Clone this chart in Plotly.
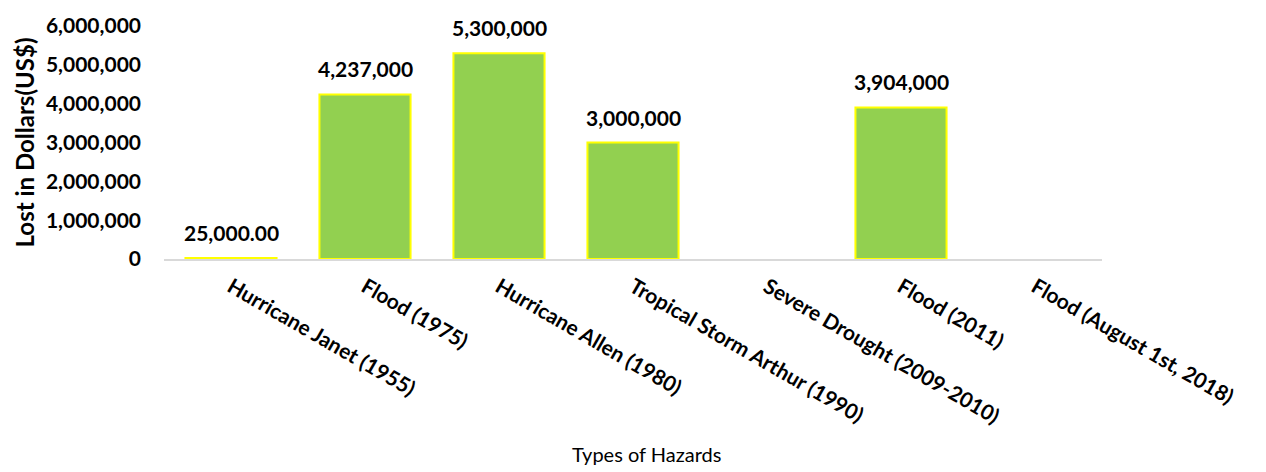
import plotly.graph_objects as go

categories = ["Hurricane Janet (1955)", "Flood (1975)", "Hurricane Allen (1980)",
              "Tropical Storm Arthur (1990)", "Severe Drought (2009-2010)",
              "Flood (2011)", "Flood (August 1st, 2018)"]
losses = [25000, 4237000, 5300000, 3000000, None, 3904000, None]
value_labels = ["25,000.00", "4,237,000", "5,300,000", "3,000,000", "", "3,904,000", ""]
y_ticks = [0, 1000000, 2000000, 3000000, 4000000, 5000000, 6000000]
y_tick_labels = ["0", "1,000,000", "2,000,000", "3,000,000", "4,000,000", "5,000,000", "6,000,000"]

FONT = "Lato"

fig = go.Figure()
fig.add_trace(go.Bar(
    x=categories, y=losses,
    marker=dict(color="#92D050", line=dict(color="#FFFF00", width=2)),
))

for c, v, t in zip(categories, losses, value_labels):
    if v is not None and t:
        fig.add_annotation(x=c, y=v, text="<b>%s</b>" % t, showarrow=False,
                           yanchor="bottom", yshift=11,
                           font=dict(family=FONT, size=21, color="black"))

fig.add_annotation(text="Types of Hazards", xref="paper", yref="paper",
                   x=0.514, y=-0.836, showarrow=False, xanchor="center", yanchor="middle",
                   font=dict(family=FONT, size=20, color="black"))

fig.update_layout(
    width=1266, height=472,
    margin=dict(l=164, r=164, t=21, b=213),
    plot_bgcolor="white", paper_bgcolor="white",
    bargap=0.32, showlegend=False,
    font=dict(family=FONT, color="black"),
    xaxis=dict(
        tickangle=30, tickfont=dict(family=FONT, size=21, weight="bold"),
        showline=True, linecolor="#d9d9d9", linewidth=1.5, ticks="",
        ticklabelstandoff=6,
    ),
    yaxis=dict(
        range=[0, 6000000], tickvals=y_ticks, ticktext=y_tick_labels,
        tickfont=dict(family=FONT, size=21, weight="bold"),
        showgrid=False, zeroline=False, showline=False, ticks="",
        ticklabelstandoff=22,
        title=dict(text="<b>Lost in Dollars(US$)</b>", font=dict(family=FONT, size=24), standoff=4),
    ),
)
fig.write_html("out.html")
